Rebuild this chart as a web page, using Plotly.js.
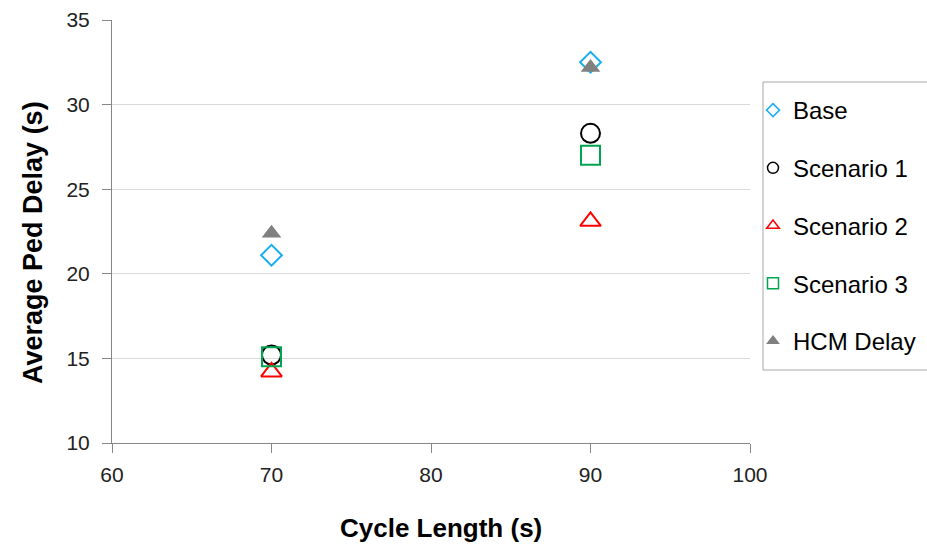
<!DOCTYPE html>
<html>
<head>
<meta charset="utf-8">
<script src="https://cdn.plot.ly/plotly-3.0.1.min.js"></script>
<style>html,body{margin:0;padding:0;background:#fff;}#chart{width:927px;height:546px;}</style>
</head>
<body>
<div id="chart"></div>
<script>
const cycleLength = [70, 90];
const seriesNames = ["Base", "Scenario 1", "Scenario 2", "Scenario 3", "HCM Delay"];
const baseDelay = [21.1, 32.5];
const scenario1Delay = [15.2, 28.3];
const scenario2Delay = [14.2, 23.1];
const scenario3Delay = [15.1, 27.0];
const hcmDelay = [22.4, 32.2];
const xTitle = "Cycle Length (s)";
const yTitle = "Average Ped Delay (s)";

const values = [baseDelay, scenario1Delay, scenario2Delay, scenario3Delay, hcmDelay];
const symbols = ["diamond-open", "circle-open", "triangle-up-open", "square-open", "triangle-up"];
const colors = ["#1AAEF0", "#000000", "#FF0000", "#00A550", "#808080"];
const sizes = [16, 19, 18, 19, 17];
const legendSizes = [10, 11, 11, 11, 12];

// plotted marks (legend hidden)
const traces = seriesNames.map((name, i) => ({
  type: "scatter",
  mode: "markers",
  name: name,
  legendgroup: "g" + i,
  showlegend: false,
  x: cycleLength,
  y: values[i],
  marker: {
    symbol: symbols[i],
    color: colors[i],
    size: sizes[i],
    line: {color: colors[i], width: i === 4 ? 0 : 2}
  }
}));

// legend entries with smaller symbols (no data drawn)
const legendTraces = seriesNames.map((name, i) => ({
  type: "scatter",
  mode: "markers",
  name: name,
  legendgroup: "g" + i,
  showlegend: true,
  x: [null],
  y: [null],
  marker: {
    symbol: symbols[i],
    color: colors[i],
    size: legendSizes[i],
    line: {color: colors[i], width: i === 4 ? 0 : 1.5}
  }
}));

const tickFont = {size: 21, family: "Liberation Sans, Arial, sans-serif", color: "#222"};
const titleFont = {size: 26, family: "Liberation Sans, Arial, sans-serif", color: "#000"};

const layout = {
  width: 927, height: 546,
  margin: {l: 112, r: 177, t: 20, b: 103, autoexpand: false},
  paper_bgcolor: "#fff", plot_bgcolor: "#fff",
  font: {family: "Liberation Sans, Arial, sans-serif", color: "#000"},
  xaxis: {
    range: [60, 100], dtick: 10, tick0: 60,
    showgrid: false, zeroline: false,
    showline: true, linecolor: "#868686", linewidth: 1,
    ticks: "outside", ticklen: 9, tickcolor: "#868686",
    ticklabelstandoff: 4,
    tickfont: tickFont
  },
  yaxis: {
    range: [10, 35], dtick: 5, tick0: 10,
    showgrid: true, gridcolor: "#D9D9D9", gridwidth: 1,
    zeroline: false,
    showline: true, linecolor: "#868686", linewidth: 1,
    ticks: "outside", ticklen: 9, tickcolor: "#868686",
    ticklabelstandoff: 8,
    tickfont: tickFont
  },
  annotations: [
    {text: "<b>" + xTitle + "</b>", xref: "paper", yref: "paper",
     x: (441 - 112) / 638, y: (443 - 528) / 423, xanchor: "center", yanchor: "middle",
     showarrow: false, font: titleFont},
    {text: "<b>" + yTitle + "</b>", xref: "paper", yref: "paper", textangle: -90,
     x: (33 - 112) / 638, y: (443 - 243) / 423, xanchor: "center", yanchor: "middle",
     showarrow: false, font: {size: 27, family: titleFont.family, color: "#000"}}
  ],
  shapes: [
    {type: "rect", xref: "paper", yref: "paper",
     x0: (763 - 112) / 638, x1: (945 - 112) / 638,
     y0: (443 - 370) / 423, y1: (443 - 82) / 423,
     line: {color: "#A6A6A6", width: 1}, fillcolor: "rgba(0,0,0,0)", layer: "below"}
  ],
  showlegend: true,
  legend: {
    x: (753 - 112) / 638, xanchor: "left",
    y: (443 - 88) / 423, yanchor: "top",
    borderwidth: 0, bgcolor: "rgba(0,0,0,0)",
    font: {size: 24, family: "Liberation Sans, Arial, sans-serif", color: "#000"},
    tracegroupgap: 23.5,
    itemwidth: 30
  }
};

Plotly.newPlot("chart", traces.concat(legendTraces), layout, {displayModeBar: false, staticPlot: true});
</script>
</body>
</html>
